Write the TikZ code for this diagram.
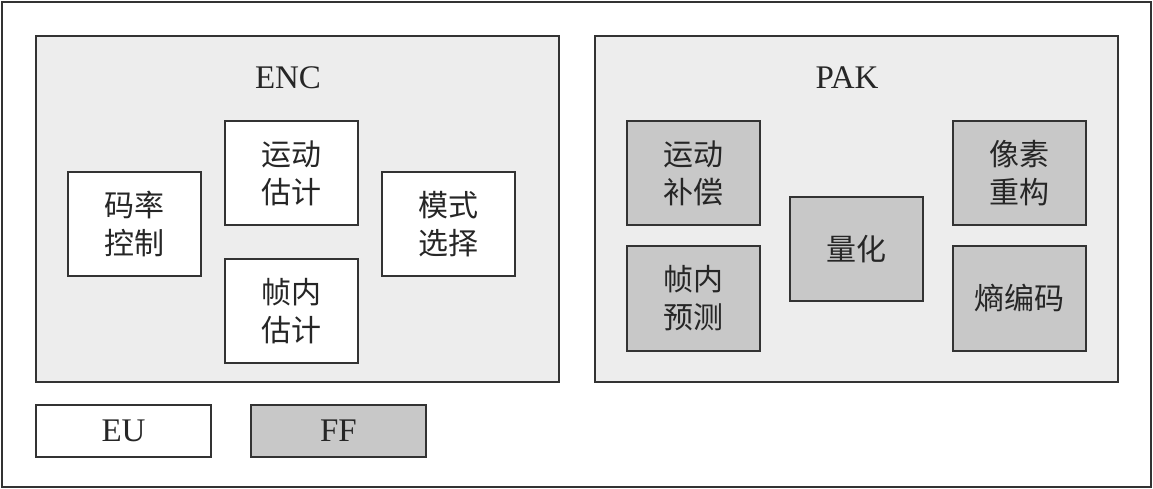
\documentclass[tikz,border=0pt]{standalone}
\usepackage{fontspec}
\setmainfont{Liberation Serif}
\newfontfamily\cjk{Noto Sans CJK SC}[Scale=1]
\definecolor{lightbg}{HTML}{EDEDED}
\definecolor{darkbox}{HTML}{C8C8C8}
\definecolor{edge}{HTML}{333333}
\begin{document}
\begin{tikzpicture}[x=1pt,y=-1pt,
  group/.style={draw=edge,line width=1.2pt,fill=lightbg},
  unit/.style={draw=edge,line width=1.2pt,fill=white,font=\cjk\fontsize{30}{38}\selectfont,align=center,text=black!85},
  ffunit/.style={unit,fill=darkbox},
  lbl/.style={font=\fontsize{33}{38}\selectfont,text=black!85}]
\useasboundingbox (0,0) rectangle (1153,489);
\draw[draw=edge,line width=1.2pt,fill=white] (2,2) rectangle (1151,487);
% groups
\draw[group] (36,36) rectangle (559,382);
\draw[group] (595,36) rectangle (1118,382);
\node[lbl] (enc) at (288,78) {ENC};
\node[lbl] (pak) at (847,78) {PAK};
% ENC units
\draw[unit] (68,172) rectangle (201,276) node[midway] (rc) {码率\\控制};
\draw[unit] (225,121) rectangle (358,225) node[midway] (me) {运动\\估计};
\draw[unit] (225,259) rectangle (358,363) node[midway] (ie) {帧内\\估计};
\draw[unit] (382,172) rectangle (515,276) node[midway] (ms) {模式\\选择};
% PAK units
\draw[ffunit] (627,121) rectangle (760,225) node[midway] (mc) {运动\\补偿};
\draw[ffunit] (627,246) rectangle (760,351) node[midway] (ip) {帧内\\预测};
\draw[ffunit] (790,197) rectangle (923,301) node[midway] (qt) {量化};
\draw[ffunit] (953,121) rectangle (1086,225) node[midway] (pr) {像素\\重构};
\draw[ffunit] (953,246) rectangle (1086,351) node[midway] (ec) {熵编码};
% legend
\draw[unit] (36,405) rectangle (211,457) node[midway,lbl] (eu) {EU};
\draw[ffunit] (251,405) rectangle (426,457) node[midway,lbl] (ff) {FF};
\end{tikzpicture}
\end{document}
